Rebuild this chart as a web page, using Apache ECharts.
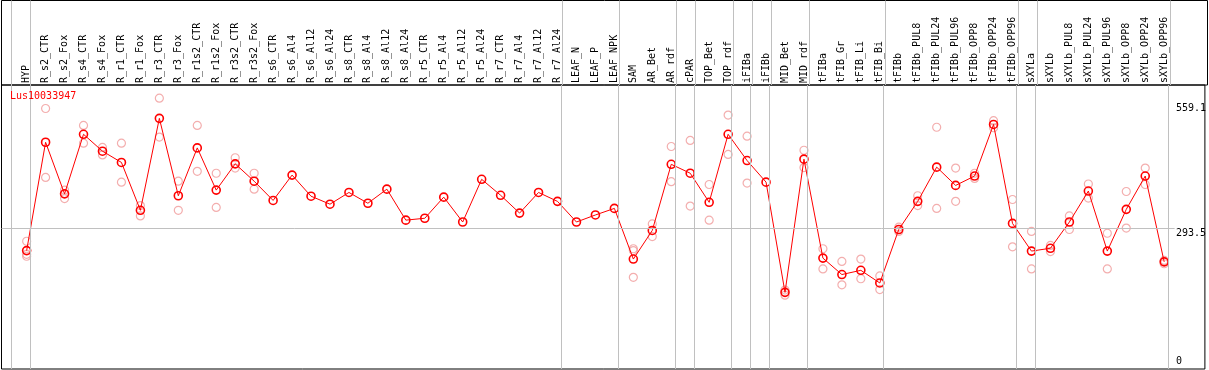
<!DOCTYPE html>
<html><head><meta charset="utf-8">
<script src="https://cdn.jsdelivr.net/npm/echarts@6/dist/echarts.min.js"></script>
<style>html,body{margin:0;padding:0;background:#fff}#c{width:1209px;height:370px}</style>
</head><body><div id="c"></div>
<script>
const geneName = 'Lus10033947';
const categories = ['HYP','R_s2_CTR','R_s2_Fox','R_s4_CTR','R_s4_Fox','R_r1_CTR','R_r1_Fox','R_r3_CTR','R_r3_Fox','R_r1s2_CTR','R_r1s2_Fox','R_r3s2_CTR','R_r3s2_Fox','R_s6_CTR','R_s6_Al4','R_s6_Al12','R_s6_Al24','R_s8_CTR','R_s8_Al4','R_s8_Al12','R_s8_Al24','R_r5_CTR','R_r5_Al4','R_r5_Al12','R_r5_Al24','R_r7_CTR','R_r7_Al4','R_r7_Al12','R_r7_Al24','LEAF_N','LEAF_P','LEAF_NPK','SAM','AR_Bet','AR_rdf','cPAR','TOP_Bet','TOP_rdf','iFIBa','iFIBb','MID_Bet','MID_rdf','tFIBa','tFIB_Gr','tFIB_Li','tFIB_Bi','tFIBb','tFIBb_PUL8','tFIBb_PUL24','tFIBb_PUL96','tFIBb_OPP8','tFIBb_OPP24','tFIBb_OPP96','sXYLa','sXYLb','sXYLb_PUL8','sXYLb_PUL24','sXYLb_PUL96','sXYLb_OPP8','sXYLb_OPP24','sXYLb_OPP96'];
const means = [246,477,367,494,458,434,332,528,363,465,375,431,394,353,407,362,345,370,347,377,311,315,360,307,398,364,326,370,351,307,322,336,228,289,430,411,349,494,438,392,157,441,230,195,204,177,291,351,424,385,405,515,304,245,251,307,373,245,334,405,222];
const replicates = [[266,238,234],[549,402],[375,357],[513,475],[466,450],[475,392],[342,320],[571,488],[394,332],[513,415],[411,338],[444,422],[411,377],[],[],[],[],[],[],[],[],[],[],[],[],[],[],[],[],[],[],[],[250,246,189],[303,276],[468,393],[481,341],[387,311],[535,451],[490,390],[],[162,151],[460,423],[250,207],[223,173],[228,186],[192,163],[296,287],[363,342],[509,336],[422,351],[411,400],[523,508],[355,254],[287,207],[257,244],[320,291],[388,358],[283,207],[372,294],[422,387],[218,225]];
// separators are drawn just after these category indices (-1 = before the first one)
const groupEnds = [-1,0,28,31,34,35,37,38,39,41,45,52,53,60];
const yTickLabels = [293.5, 559.1];
const yZeroLabel = [0];
const refLineValue = 293.5;

const FONT = 'DejaVu Sans Mono';
const SHIFT = 2; // x position of category i is i + SHIFT
const xMin = SHIFT - 1.326, xMax = SHIFT + 62.147;
const yMin = -6.4, yMax = 599.1;
const xPos = categories.map((_, i) => i + SHIFT);
const sepOffset = 0.19;

const repData = [];
replicates.forEach((arr, i) => arr.forEach(v => repData.push([i + SHIFT, v])));
const meanData = means.map((v, i) => [i + SHIFT, v]);
const sepX = groupEnds.map(g => g + SHIFT + sepOffset);
const sepLinesHeader = sepX.map(x => [{coord: [x, 0]}, {coord: [x, 1]}]);
const sepLinesMain = sepX.map(x => [{coord: [x, yMin]}, {coord: [x, yMax]}]);

const chart = echarts.init(document.getElementById('c'), null, {renderer: 'canvas'});
chart.setOption({
  animation: false,
  backgroundColor: '#fff',
  title: {text: geneName, left: 10, top: 91, padding: 0,
    textStyle: {color: '#ff0000', fontSize: 10, fontWeight: 'normal', fontFamily: FONT}},
  grid: [
    {left: 1.5, right: 1.5, top: 0.5, height: 84.5, show: true, borderColor: '#000', borderWidth: 1, backgroundColor: 'transparent'},
    {left: 1.5, right: 1.5, top: 85, bottom: 1, show: true, borderColor: '#000', borderWidth: 1, backgroundColor: 'transparent'}
  ],
  xAxis: [
    {gridIndex: 0, type: 'value', min: xMin, max: xMax, show: false},
    {gridIndex: 1, type: 'value', min: xMin, max: xMax, position: 'top',
      axisLine: {show: false}, axisTick: {show: false}, splitLine: {show: false},
      axisLabel: {customValues: xPos, rotate: 90, margin: 2, color: '#000', fontSize: 10, fontFamily: FONT,
        showMinLabel: true, showMaxLabel: true, hideOverlap: false,
        formatter: v => categories[Math.round(v) - SHIFT] || ''}}
  ],
  yAxis: [
    {gridIndex: 0, type: 'value', min: 0, max: 1, show: false},
    {gridIndex: 1, type: 'value', min: yMin, max: yMax, position: 'right', offset: -31,
      axisLine: {show: false}, axisTick: {show: false}, splitLine: {show: false},
      axisLabel: {customValues: yTickLabels, margin: 2, align: 'left', verticalAlign: 'top', color: '#000', fontSize: 10, fontFamily: FONT,
        showMinLabel: true, showMaxLabel: true, formatter: v => String(v)}},
    {gridIndex: 1, type: 'value', min: yMin, max: yMax, position: 'right', offset: -31,
      axisLine: {show: false}, axisTick: {show: false}, splitLine: {show: false},
      axisLabel: {customValues: yZeroLabel, margin: 2, align: 'left', verticalAlign: 'bottom', color: '#000', fontSize: 10, fontFamily: FONT,
        showMinLabel: true, showMaxLabel: true, formatter: v => String(v)}}
  ],
  series: [
    {type: 'line', xAxisIndex: 0, yAxisIndex: 0, data: [], silent: true,
      markLine: {silent: true, symbol: 'none', label: {show: false}, animation: false,
        lineStyle: {color: '#c0c0c0', width: 1, type: 'solid'}, data: sepLinesHeader}},
    {type: 'scatter', xAxisIndex: 1, yAxisIndex: 1, data: repData, symbol: 'circle', symbolSize: 8, z: 2,
      itemStyle: {color: 'rgba(0,0,0,0)', borderColor: '#f09a9a', borderWidth: 1.2},
      markLine: {silent: true, symbol: 'none', label: {show: false}, animation: false,
        lineStyle: {color: '#c0c0c0', width: 1, type: 'solid'},
        data: sepLinesMain.concat([[{coord: [xMin, refLineValue]}, {coord: [SHIFT + 60.55, refLineValue]}]])}},
    {type: 'line', xAxisIndex: 1, yAxisIndex: 1, data: meanData, z: 3, symbol: 'circle', symbolSize: 8, showAllSymbol: true,
      lineStyle: {color: '#ff0000', width: 1},
      itemStyle: {color: 'rgba(0,0,0,0)', borderColor: '#ff0000', borderWidth: 1.6}}
  ]
});
</script></body></html>
